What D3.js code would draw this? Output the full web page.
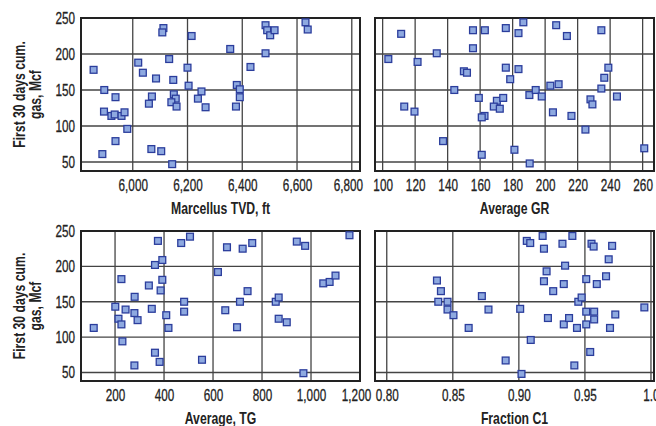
<!DOCTYPE html>
<html>
<head>
<meta charset="utf-8">
<script src="https://cdn.jsdelivr.net/npm/d3@7/dist/d3.min.js"></script>
<style>
  body { margin: 0; background: #fff; }
  svg { display: block; }
  text { font-family: "Liberation Sans", Arial, sans-serif; fill: #222; }
  .tick-label { font-size: 16.5px; stroke: #222; stroke-width: 0.3px; }
  .axis-title { font-size: 16.5px; font-weight: bold; }
</style>
</head>
<body>
<svg id="chart" width="656" height="426"></svg>
<script>
const yTicks = [50, 100, 150, 200, 250];

const tvdTicks = [6000, 6200, 6400, 6600, 6800];
const tvdX = [5857, 5896, 5937, 5895, 5922, 5934, 5959, 5970, 5980, 5937, 5889, 6020, 6037, 6085, 6070, 6059,
  6068, 6104, 6112, 6108, 6133, 6148, 6150, 6157, 6141, 6160, 6144, 6215, 6200, 6204, 6251, 6238, 6266,
  6356, 6380, 6391, 6391, 6377, 6430, 6485, 6491, 6502, 6518, 6485, 6631, 6639];
const tvdY = [178, 150, 140, 120, 114, 116, 114, 119, 96, 79, 61, 188, 174, 166, 141, 131,
  68, 65, 236, 230, 193, 164, 144, 138, 133, 127, 47, 225, 181, 156, 148, 138, 126,
  207, 157, 151, 140, 127, 182, 240, 233, 226, 233, 201, 244, 234];

const grTicks = [100, 120, 140, 160, 180, 200, 220, 240, 260];
const grX = [103.5, 111.4, 113.3, 119.6, 121.5, 133.3, 137.2, 144.1, 150, 151.9, 155.6, 155.6, 162.9, 159.2,
  162.7, 161, 161, 170.3, 168.4, 172.1, 174.2, 175.8, 175.8, 178.5, 183.6, 183.6, 186.6, 181.1, 190.3, 194.2,
  197.9, 190.5, 203.2, 208.3, 204.8, 206.8, 213.4, 216.2, 224.8, 227.9, 229.1, 234.6, 234.6, 236.4, 238.9,
  244.2, 261];
const grY = [193, 228, 127, 120, 189, 201, 79, 150, 176, 174, 233, 208, 233, 139,
  114, 112, 60, 135, 127, 124, 139, 236, 181, 165, 229, 179, 244, 67, 143, 150,
  141, 48, 156, 158, 119, 240, 225, 114, 95, 137, 130, 233, 152, 167, 181,
  141, 69];

const tgTicks = [200, 400, 600, 800, 1000, 1200];
const tgX = [113, 201, 214, 226, 226, 230, 243, 280, 279, 292, 279, 338, 350, 363, 363, 375, 382, 386, 393,
  393, 409, 418, 470, 482, 482, 506, 555, 620, 650, 657, 698, 710, 721, 741, 760, 856, 868, 868, 901,
  942, 976, 969, 1050, 1076, 1100, 1157];
const tgY = [113, 143, 126, 118, 182, 94, 139, 157, 134, 124, 60, 173, 140, 202, 78, 236, 65, 166, 209,
  181, 131, 113, 233, 150, 136, 242, 68, 192, 138, 227, 114, 150, 225, 165, 233, 150, 156, 126, 121,
  235, 229, 49, 176, 178, 187, 244];

const c1Ticks = [0.80, 0.85, 0.90, 0.95, 1.0];
const c1X = [0.838, 0.841, 0.839, 0.846, 0.846, 0.8505, 0.862, 0.872, 0.877, 0.890, 0.901, 0.902, 0.906,
  0.9086, 0.909, 0.918, 0.919, 0.919, 0.921, 0.922, 0.926, 0.933, 0.934, 0.934, 0.935, 0.938, 0.9405,
  0.942, 0.944, 0.945, 0.9475, 0.951, 0.951, 0.951, 0.954, 0.955, 0.9566, 0.957, 0.957, 0.959, 0.966,
  0.968, 0.969, 0.9706, 0.973, 0.995];
const c1Y = [180, 165, 150, 150, 139, 131, 113, 158, 139, 67, 140, 48, 236, 233, 96, 243, 225, 179, 193,
  127, 165, 232, 175, 118, 201, 127, 243, 60, 113, 150, 156, 182, 136, 118, 79, 232, 228, 136, 125, 175,
  186, 210, 113, 229, 132, 142];

const panels = [
  { xs: tvdX, ys: tvdY, ticks: tvdTicks, domain: [5811, 6830], fmt: d3.format(","), title: "Marcellus TVD, ft",
    left: 81, right: 360, top: 18, bottom: 171, yDomain: [37.5, 250], yLabels: true },
  { xs: grX, ys: grY, ticks: grTicks, domain: [95.3, 267], fmt: d3.format("d"), title: "Average GR",
    left: 375, right: 654, top: 18, bottom: 171, yDomain: [37.5, 250], yLabels: false },
  { xs: tgX, ys: tgY, ticks: tgTicks, domain: [61, 1200], fmt: d3.format(","), title: "Average, TG",
    left: 81, right: 360, top: 231, bottom: 381, yDomain: [38, 250], yLabels: true },
  { xs: c1X, ys: c1Y, ticks: c1Ticks, domain: [0.7911, 1.0023], fmt: (d) => (d === 1 ? "1.0" : d3.format(".2f")(d)),
    title: "Fraction C1", left: 375, right: 654, top: 231, bottom: 381, yDomain: [38, 250], yLabels: false },
];

const svg = d3.select("#chart");

panels.forEach(drawPanel);

// the reference uses a condensed face, so squeeze the installed one horizontally
svg.selectAll("text").each(function () {
  const el = d3.select(this);
  const factor = el.classed("tick-label") ? 0.71 : 0.74;
  el.attr("textLength", this.getComputedTextLength() * factor).attr("lengthAdjust", "spacingAndGlyphs");
});

function drawPanel(p) {
  const x = d3.scaleLinear().domain(p.domain).range([p.left, p.right]);
  const y = d3.scaleLinear().domain(p.yDomain).range([p.bottom, p.top]);
  const g = svg.append("g");

  // grid
  g.append("g")
    .selectAll("line")
    .data(p.ticks)
    .join("line")
    .attr("x1", (d) => x(d))
    .attr("x2", (d) => x(d))
    .attr("y1", p.top)
    .attr("y2", p.bottom)
    .attr("stroke", "#444")
    .attr("stroke-width", 1.3);

  g.append("g")
    .selectAll("line")
    .data(yTicks)
    .join("line")
    .attr("x1", p.left)
    .attr("x2", p.right)
    .attr("y1", (d) => y(d))
    .attr("y2", (d) => y(d))
    .attr("stroke", "#444")
    .attr("stroke-width", 1.3);

  // frame
  g.append("rect")
    .attr("x", p.left)
    .attr("y", p.top)
    .attr("width", p.right - p.left)
    .attr("height", p.bottom - p.top)
    .attr("fill", "none")
    .attr("stroke", "#222")
    .attr("stroke-width", 2);

  // x tick labels
  const xAxis = g.append("g")
    .attr("transform", `translate(0,${p.bottom})`)
    .call(d3.axisBottom(x).tickValues(p.ticks).tickFormat(p.fmt).tickSize(0).tickPadding(8.5));
  xAxis.select(".domain").remove();
  xAxis.selectAll("text").attr("class", "tick-label").attr("font-family", null).attr("font-size", null);

  if (p.yLabels) {
    // last label on the left panels sits a little inward, as in the original
    xAxis.selectAll(".tick:last-of-type text").attr("dx", -4);

    const yAxis = g.append("g")
      .attr("transform", `translate(${p.left},0)`)
      .call(d3.axisLeft(y).tickValues(yTicks).tickSize(0).tickPadding(6));
    yAxis.select(".domain").remove();
    yAxis.selectAll("text").attr("class", "tick-label").attr("font-family", null).attr("font-size", null);

    const cy = (p.top + p.bottom) / 2;
    g.append("text")
      .attr("class", "axis-title")
      .attr("transform", `translate(25,${cy}) rotate(-90)`)
      .attr("text-anchor", "middle")
      .text("First 30 days cum.");
    g.append("text")
      .attr("class", "axis-title")
      .attr("transform", `translate(41,${cy}) rotate(-90)`)
      .attr("text-anchor", "middle")
      .text("gas, Mcf");
  }

  g.append("text")
    .attr("class", "axis-title")
    .attr("x", (p.left + p.right) / 2)
    .attr("y", p.bottom + 42.5)
    .attr("text-anchor", "middle")
    .text(p.title);

  // points
  const pts = p.xs.map((v, i) => ({ x: v, y: p.ys[i] }));
  g.append("g")
    .selectAll("rect")
    .data(pts)
    .join("rect")
    .attr("x", (d) => x(d.x) - 3.4)
    .attr("y", (d) => y(d.y) - 3.4)
    .attr("width", 6.8)
    .attr("height", 6.8)
    .attr("fill", "#8ea9e0")
    .attr("stroke", "#2b3d9c")
    .attr("stroke-width", 1.3);
}
</script>
</body>
</html>
